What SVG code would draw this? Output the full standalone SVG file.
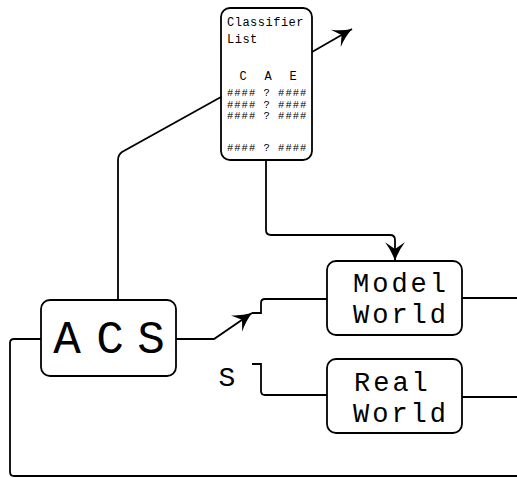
<svg xmlns="http://www.w3.org/2000/svg" width="517" height="478" viewBox="0 0 517 478">
  <style>
    .box { fill: #fff; stroke: #000; stroke-width: 1.8; }
    .wire { fill: none; stroke: #000; stroke-width: 1.8; }
    .mono { font-family: "Liberation Mono", "DejaVu Sans Mono", monospace; fill: #000; }
    .small { font-size: 12px; }
    .row { font-size: 10.5px; letter-spacing: 1px; }
    .big { font-size: 27px; letter-spacing: 3px; }
  </style>
  <defs>
    <marker id="head" markerUnits="userSpaceOnUse" markerWidth="22" markerHeight="22" viewBox="-18 -10 20 20" refX="0" refY="0" orient="auto">
      <path d="M0,0 Q-9,-3 -17,-9 L-11,0 L-17,9 Q-9,3 0,0 Z" fill="#000"/>
    </marker>
  </defs>
  <rect width="517" height="478" fill="#fff"/>

  <g id="connectors">
    <!-- ACS up to classifier list -->
    <path class="wire" d="M118,300 V160 Q118,155 122,152 L221,97"/>
    <!-- classifier list outgoing -->
    <path class="wire" d="M312,52 L352,29" marker-end="url(#head)"/>
    <!-- classifier list down to model world -->
    <path class="wire" d="M266,160 V230 Q266,235 271,235 H390 Q395,235 395,240 V261" marker-end="url(#head)"/>
    <!-- ACS to model world -->
    <path class="wire" d="M176,339 H214 L252,313" marker-end="url(#head)"/>
    <path class="wire" d="M252,313 H261 V303 Q261,299 265,299 H327"/>
    <!-- S input to real world -->
    <path class="wire" d="M252,364 H261 V391 Q261,395 265,395 H327"/>
    <!-- outputs -->
    <path class="wire" d="M462,298 H517"/>
    <path class="wire" d="M462,397 H517"/>
    <!-- feedback loop -->
    <path class="wire" d="M41,339 H14 Q10,339 10,343 V472 Q10,476 14,476 H517"/>
  </g>

  <g id="classifier-list">
    <rect class="box" x="221" y="8" width="91" height="152" rx="9"/>
    <text class="mono small" x="227" y="26" letter-spacing="0.5">Classifier</text>
    <text class="mono small" x="227" y="43" letter-spacing="0.5">List</text>
    <text class="mono small" x="243 268 293" y="80" text-anchor="middle">CAE</text>
    <text class="mono row" x="227" y="96" xml:space="preserve">#### ? ####</text>
    <text class="mono row" x="227" y="107.5" xml:space="preserve">#### ? ####</text>
    <text class="mono row" x="227" y="119" xml:space="preserve">#### ? ####</text>
    <text class="mono row" x="227" y="151" xml:space="preserve">#### ? ####</text>
  </g>

  <g id="acs">
    <rect class="box" x="41" y="300" width="135" height="76" rx="9"/>
    <text class="mono" font-size="46" x="67 110 151" y="353" text-anchor="middle">ACS</text>
  </g>

  <g id="model-world">
    <rect class="box" x="327" y="261" width="135" height="74" rx="9"/>
    <text class="mono big" x="353" y="292">Model</text>
    <text class="mono big" x="353" y="323">World</text>
  </g>

  <g id="real-world">
    <rect class="box" x="327" y="359" width="135" height="74" rx="9"/>
    <text class="mono big" x="354" y="391">Real</text>
    <text class="mono big" x="353" y="422">World</text>
  </g>

  <text id="s-label" class="mono" font-size="28" x="227" y="386" text-anchor="middle">S</text>
</svg>
